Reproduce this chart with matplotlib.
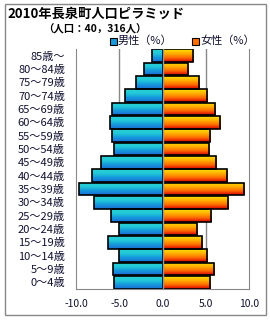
import numpy as np
import matplotlib
matplotlib.use('Agg')
import matplotlib.pyplot as plt
from matplotlib.colors import LinearSegmentedColormap
from matplotlib.patches import Rectangle

plt.rcParams['font.family'] = ['Noto Sans CJK JP', 'DejaVu Sans']

ages = ['0～4歳', '5～9歳', '10～14歳', '15～19歳', '20～24歳', '25～29歳',
        '30～34歳', '35～39歳', '40～44歳', '45～49歳', '50～54歳', '55～59歳',
        '60～64歳', '65～69歳', '70～74歳', '75～79歳', '80～84歳', '85歳～']
male = [5.6, 5.7, 5.0, 6.3, 5.0, 5.9, 7.9, 9.6, 8.1, 7.1, 5.6, 5.8,
        6.1, 5.8, 4.3, 3.1, 2.1, 1.2]
female = [5.5, 5.9, 5.2, 4.6, 4.0, 5.6, 7.6, 9.4, 7.5, 6.2, 5.4, 5.5,
          6.6, 6.1, 5.2, 4.2, 2.9, 3.5]
xticks = [-10, -5, 0, 5, 10]

male_cmap = LinearSegmentedColormap.from_list('m', ['#1a6fd8', '#1596dc', '#22c8d8', '#28d2d4'])
female_cmap = LinearSegmentedColormap.from_list('f', ['#d80000', '#ff6a00', '#ffb000', '#ffe000'])

fig = plt.figure(figsize=(2.7, 3.2), dpi=100)
fig.patches.append(Rectangle((5 / 270, 5 / 320), 261 / 270, 311 / 320, transform=fig.transFigure,
                             fill=False, edgecolor='#888888', linewidth=1))
ax = fig.add_axes([76 / 270, 31 / 320, 173 / 270, 240 / 320])

y = np.arange(len(ages))
h = 0.94
grad = np.linspace(0, 1, 64).reshape(-1, 1)


def grad_bars(left, width, cmap):
    bars = ax.barh(y, width, left=left, height=h, color='none', edgecolor='black', linewidth=1.2, zorder=3)
    for b in bars:
        x0, y0 = b.get_x(), b.get_y()
        im = ax.imshow(grad, cmap=cmap, aspect='auto', origin='lower', zorder=2,
                       extent=[x0, x0 + b.get_width(), y0, y0 + b.get_height()])
        im.set_clip_path(b)
    return bars


grad_bars(-np.array(male), male, male_cmap)
grad_bars(0, female, female_cmap)

ax.axvline(0, color='#8a9aa8', linewidth=1, zorder=4)
for g in [-5, 5]:
    ax.axvline(g, color='#888888', linewidth=1, zorder=1)

ax.set_xlim(-10, 10)
ax.set_ylim(-0.5, len(ages) - 0.5)
ax.set_xticks(xticks)
ax.set_xticklabels(['%.1f' % v for v in xticks], fontsize=7.5, color='#111133')
ax.set_yticks(y)
ax.set_yticklabels(ages, fontsize=8, color='#111133')
ax.tick_params(axis='x', length=0, pad=7)
ax.tick_params(axis='y', length=0, pad=8)
for s in ['left', 'right', 'bottom']:
    ax.spines[s].set_color('#888888')
ax.spines['top'].set_visible(False)

fig.text(7 / 270, 1 - 14 / 320, '2010年長泉町人口ピラミッド', fontsize=9.5, fontweight='bold', va='center')
fig.text(95 / 270, 1 - 29 / 320, '（人口：40，316人）', fontsize=7.5, fontweight='bold', ha='center', va='center')

# legend
fig.patches.append(Rectangle((110 / 270, 1 - 45 / 320), 7 / 270, 7 / 320, transform=fig.transFigure,
                             facecolor='#1a9ad8', edgecolor='black', linewidth=0.8))
fig.text(118 / 270, 1 - 41 / 320, '男性（%）', fontsize=8, va='center', color='#111133')
fig.patches.append(Rectangle((192 / 270, 1 - 45 / 320), 7 / 270, 7 / 320, transform=fig.transFigure,
                             facecolor='#ff7000', edgecolor='black', linewidth=0.8))
fig.text(200 / 270, 1 - 41 / 320, '女性（%）', fontsize=8, va='center', color='#111133')

fig.savefig('out.png', dpi=100)
